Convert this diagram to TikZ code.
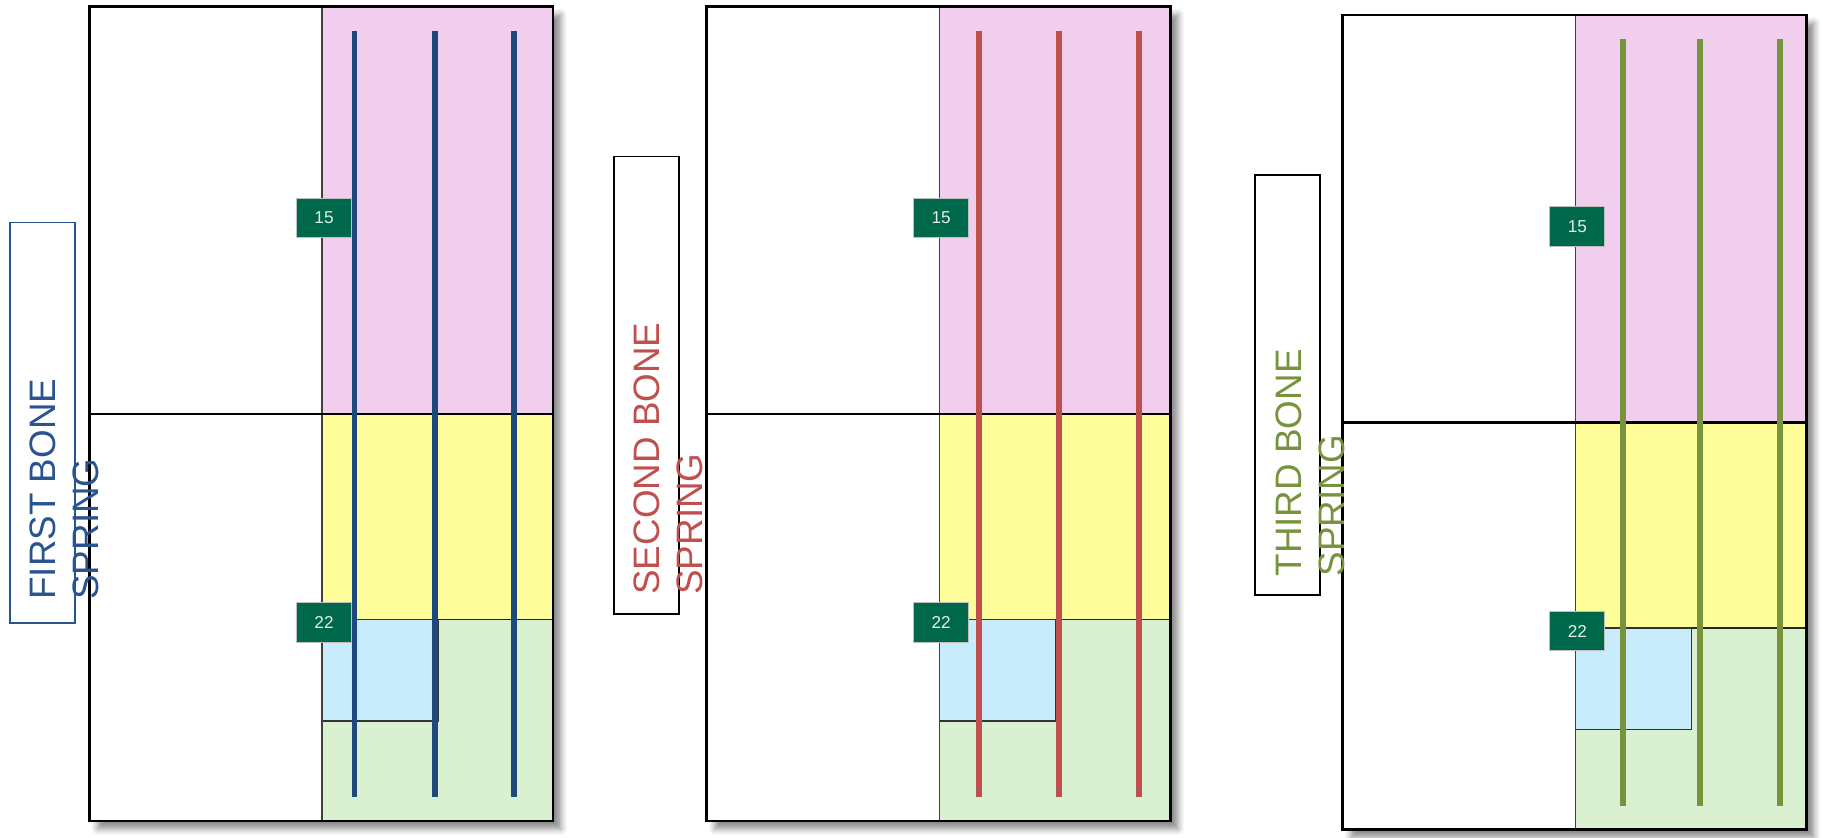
\documentclass[tikz,border=0pt]{standalone}
\usepackage{fontspec}
\setmainfont{Liberation Sans}
\usetikzlibrary{shadows.blur}
\definecolor{zonepink}{RGB}{241,205,238}
\definecolor{zoneyellow}{RGB}{253,253,153}
\definecolor{zoneblue}{RGB}{200,236,251}
\definecolor{zonegreen}{RGB}{218,241,209}
\definecolor{firstblue}{RGB}{31,73,125}
\definecolor{firsttext}{RGB}{42,84,142}
\definecolor{secondred}{RGB}{192,80,77}
\definecolor{thirdgreen}{RGB}{119,147,60}
\definecolor{tagfill}{RGB}{0,104,74}
\definecolor{tagtext}{RGB}{226,238,230}
\tikzstyle{tag} = [rectangle,draw=black!25,line width=.6pt,fill=tagfill,text=tagtext,minimum width=27.5pt,minimum height=19.75pt,inner sep=0pt,font=\fontsize{8.6}{10}\selectfont]
\tikzstyle{bar} = [line width=2.85pt]
\tikzstyle{frame} = [draw=black,line width=1.4pt]
\tikzstyle{labelbox} = [rectangle,line width=.8pt,minimum width=32.5pt,inner sep=0pt]
\tikzstyle{labeltext} = [rotate=90,anchor=north west,inner sep=0pt,align=left,font=\fontsize{18.4}{21.5}\selectfont]

% one panel: #1 shift, #2 bar colour, #3 bar positions, #4 name
\newcommand{\bonepanel}[4]{
	\begin{scope}[shift={#1}]
		\path[fill=white,blur shadow={shadow xshift=4pt,shadow yshift=-4pt,shadow blur radius=3pt,shadow opacity=45}] (0,0) rectangle (463.5,814.5);
		\fill[zonepink] (232.5,0) rectangle (463.5,407.5);
		\fill[zoneyellow] (232.5,407.5) rectangle (463.5,613);
		\fill[zonegreen] (232.5,613) rectangle (463.5,814.5);
		\filldraw[fill=zoneblue,draw=black!80,line width=.7pt] (232.5,613) rectangle (348.5,714.5);
		\draw[black!75,line width=.7pt] (232.5,0)--(232.5,814.5);
		\draw[black!85,line width=.7pt] (348.5,613)--(463.5,613);
		\draw[black,line width=1.3pt] (0,407.5)--(463.5,407.5);
		\foreach \x in {#3}
			\draw[bar,#2] (\x,24.5)--(\x,790.5);
		\node[tag] (#4a) at (234.5,211.5) {15};
		\node[tag] (#4b) at (234.5,616) {22};
		\draw[frame] (0,0) rectangle (463.5,814.5);
	\end{scope}
}

\begin{document}
\begin{tikzpicture}[x=0.5pt,y=-0.5pt]
		\useasboundingbox (0,0) rectangle (1823,838);
		\bonepanel{(89.5,6.5)}{firstblue}{265,345.2,424.5}{first}
		\bonepanel{(706.7,6.5)}{secondred}{272.3,352.6,432.6}{second}
		\bonepanel{(1342.8,15)}{thirdgreen}{280.2,357.2,437.2}{third}
		
		\node[labelbox,draw=firsttext,minimum height=200pt] (box1) at (42.5,422.7) {};
		\node[labelbox,draw=black,minimum height=228.6pt] (box2) at (646.5,385.3) {};
		\node[labelbox,draw=black,minimum height=210pt] (box3) at (1287.5,385) {};
		\node[labeltext,text=firsttext] (label1) at (29,600) {FIRST BONE\\SPRING};
		\node[labeltext,text=secondred] (label2) at (633,595) {SECOND BONE\\SPRING};
		\node[labeltext,text=thirdgreen] (label3) at (1275,576.7) {THIRD BONE\\SPRING};
\end{tikzpicture}
\end{document}
